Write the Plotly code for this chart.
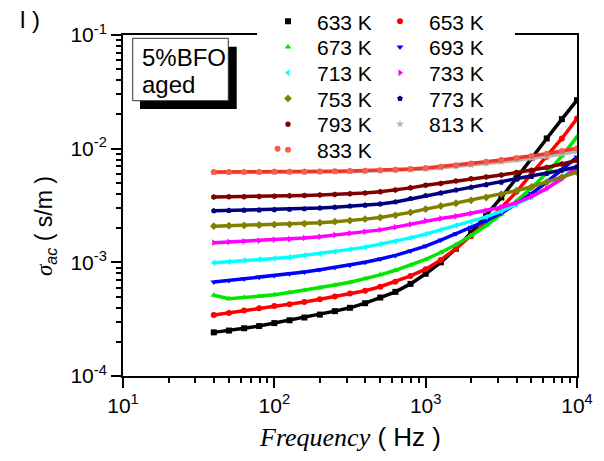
import plotly.graph_objects as go

# Frequencies (Hz) shared by every temperature series
FREQ_HZ = [39.8, 50.1, 63.1, 79.4, 100, 126, 158, 200, 251, 316, 398, 501, 631,
           794, 1000, 1259, 1585, 1995, 2512, 3162, 3981, 5012, 6310, 7943, 10000]

# AC conductivity (s/m) for each temperature
SIGMA_633K = [2.42e-4, 2.51e-4, 2.63e-4, 2.75e-4, 2.92e-4, 3.09e-4, 3.27e-4, 3.47e-4, 3.72e-4,
              3.98e-4, 4.37e-4, 4.90e-4, 5.50e-4, 6.46e-4, 7.94e-4, 1.00e-3, 1.32e-3, 1.82e-3,
              2.57e-3, 3.72e-3, 5.50e-3, 8.32e-3, 1.23e-2, 1.82e-2, 2.67e-2]
SIGMA_653K = [3.44e-4, 3.59e-4, 3.76e-4, 3.94e-4, 4.12e-4, 4.27e-4, 4.47e-4, 4.73e-4, 5.01e-4,
              5.31e-4, 5.62e-4, 6.10e-4, 6.76e-4, 7.59e-4, 8.71e-4, 1.05e-3, 1.32e-3, 1.70e-3,
              2.24e-3, 3.02e-3, 4.17e-3, 6.03e-3, 8.51e-3, 1.23e-2, 1.84e-2]
SIGMA_673K = [5.13e-4, 4.79e-4, 4.90e-4, 5.01e-4, 5.19e-4, 5.43e-4, 5.69e-4, 5.96e-4, 6.31e-4,
              6.68e-4, 7.16e-4, 7.76e-4, 8.51e-4, 9.44e-4, 1.06e-3, 1.22e-3, 1.43e-3, 1.72e-3,
              2.11e-3, 2.66e-3, 3.43e-3, 4.52e-3, 6.10e-3, 8.61e-3, 1.27e-2]
SIGMA_693K = [6.70e-4, 6.92e-4, 7.16e-4, 7.41e-4, 7.67e-4, 7.94e-4, 8.22e-4, 8.61e-4, 9.02e-4,
              9.44e-4, 1.00e-3, 1.07e-3, 1.15e-3, 1.26e-3, 1.39e-3, 1.57e-3, 1.78e-3, 2.04e-3,
              2.32e-3, 2.72e-3, 3.27e-3, 4.03e-3, 5.07e-3, 6.53e-3, 8.45e-3]
SIGMA_713K = [9.93e-4, 1.01e-3, 1.04e-3, 1.06e-3, 1.08e-3, 1.11e-3, 1.15e-3, 1.19e-3, 1.24e-3,
              1.30e-3, 1.36e-3, 1.44e-3, 1.53e-3, 1.64e-3, 1.77e-3, 1.93e-3, 2.11e-3, 2.26e-3,
              2.51e-3, 2.82e-3, 3.24e-3, 3.76e-3, 4.47e-3, 5.50e-3, 7.08e-3]
SIGMA_733K = [1.49e-3, 1.51e-3, 1.53e-3, 1.55e-3, 1.58e-3, 1.60e-3, 1.64e-3, 1.68e-3, 1.74e-3,
              1.80e-3, 1.86e-3, 1.93e-3, 2.04e-3, 2.16e-3, 2.32e-3, 2.43e-3, 2.54e-3, 2.69e-3,
              2.85e-3, 3.05e-3, 3.35e-3, 3.80e-3, 4.47e-3, 5.43e-3, 6.84e-3]
SIGMA_753K = [2.08e-3, 2.10e-3, 2.11e-3, 2.13e-3, 2.15e-3, 2.16e-3, 2.19e-3, 2.23e-3, 2.28e-3,
              2.33e-3, 2.40e-3, 2.48e-3, 2.59e-3, 2.75e-3, 2.94e-3, 3.13e-3, 3.31e-3, 3.51e-3,
              3.72e-3, 3.98e-3, 4.27e-3, 4.62e-3, 5.07e-3, 5.62e-3, 6.22e-3]
SIGMA_773K = [2.84e-3, 2.86e-3, 2.87e-3, 2.88e-3, 2.90e-3, 2.92e-3, 2.95e-3, 3.00e-3, 3.05e-3,
              3.12e-3, 3.18e-3, 3.26e-3, 3.40e-3, 3.63e-3, 3.86e-3, 4.07e-3, 4.32e-3, 4.57e-3,
              4.81e-3, 5.07e-3, 5.37e-3, 5.69e-3, 6.03e-3, 6.46e-3, 6.89e-3]
SIGMA_793K = [3.76e-3, 3.77e-3, 3.78e-3, 3.80e-3, 3.82e-3, 3.85e-3, 3.87e-3, 3.91e-3, 3.95e-3,
              4.01e-3, 4.07e-3, 4.17e-3, 4.32e-3, 4.52e-3, 4.76e-3, 4.95e-3, 5.19e-3, 5.43e-3,
              5.62e-3, 5.86e-3, 6.17e-3, 6.46e-3, 6.84e-3, 7.33e-3, 7.89e-3]
SIGMA_813K = [6.18e-3, 6.18e-3, 6.19e-3, 6.20e-3, 6.21e-3, 6.22e-3, 6.23e-3, 6.25e-3, 6.26e-3,
              6.28e-3, 6.32e-3, 6.37e-3, 6.43e-3, 6.52e-3, 6.62e-3, 6.78e-3, 6.96e-3, 7.17e-3,
              7.40e-3, 7.64e-3, 7.92e-3, 8.20e-3, 8.55e-3, 8.98e-3, 9.45e-3]
SIGMA_833K = [6.22e-3, 6.22e-3, 6.24e-3, 6.24e-3, 6.25e-3, 6.27e-3, 6.28e-3, 6.31e-3, 6.32e-3,
              6.35e-3, 6.40e-3, 6.46e-3, 6.53e-3, 6.64e-3, 6.76e-3, 6.95e-3, 7.16e-3, 7.41e-3,
              7.67e-3, 7.94e-3, 8.28e-3, 8.61e-3, 9.02e-3, 9.55e-3, 1.01e-2]

# Stray 833 K reading near 100 Hz
STRAY_FREQ_833K = [105]
STRAY_SIGMA_833K = [1.0e-2]

LABELS = ["633 K", "653 K", "673 K", "693 K", "713 K", "733 K",
          "753 K", "773 K", "793 K", "813 K", "833 K"]
SERIES = [SIGMA_633K, SIGMA_653K, SIGMA_673K, SIGMA_693K, SIGMA_713K, SIGMA_733K,
          SIGMA_753K, SIGMA_773K, SIGMA_793K, SIGMA_813K, SIGMA_833K]

# Axis ticks
X_TICKS = [10, 100, 1000, 10000]
X_TICK_TEXT = ["10<sup>1</sup>", "10<sup>2</sup>", "10<sup>3</sup>", "10<sup>4</sup>"]
Y_TICKS = [1e-4, 1e-3, 1e-2, 1e-1]
Y_TICK_TEXT = ["10<sup>-4</sup>", "10<sup>-3</sup>", "10<sup>-2</sup>", "10<sup>-1</sup>"]
X_MINOR = [m * d for d in (10, 100, 1000) for m in range(2, 10)]
Y_MINOR = [m * d for d in (1e-4, 1e-3, 1e-2) for m in range(2, 10)]

LINE_COLORS = ["#000000", "#ff0000", "#00e600", "#0000ff", "#00ffff", "#ff00ff",
               "#808000", "#000080", "#800000", "#b4b4b4", "#f2352b"]
MARKER_COLORS = ["#000000", "#ff0000", "#00e600", "#0000ff", "#00ffff", "#ff00ff",
                 "#808000", "#000080", "#800000", "#b4b4b4", "#f4604e"]
SYMBOLS = ["square", "circle", "triangle-up", "triangle-down", "triangle-left",
           "triangle-right", "diamond", "pentagon", "hexagon", "star", "circle"]

SANS = "Liberation Sans, Arial, sans-serif"
SERIF = "Liberation Serif, Times New Roman, serif"

# plot-area edges in pixels, used to place the inset box and legend entries
PLOT_L, PLOT_R, PLOT_T, PLOT_B = 123, 577, 35, 376
W, H = 604, 461

# legend layout: two columns, entries filled left/right, row by row
LEGEND_COL_X = [259, 371]
LEGEND_ROW0_Y = 21.7
LEGEND_ROW_STEP = 25.7


def px_x(px):
    return (px - PLOT_L) / (PLOT_R - PLOT_L)


def px_y(py):
    return (PLOT_B - py) / (PLOT_B - PLOT_T)


fig = go.Figure()
legends = {}

for i, (label, sigma) in enumerate(zip(LABELS, SERIES)):
    legend_name = "legend" if i == 0 else f"legend{i + 1}"
    row, col = divmod(i, 2)
    legends[legend_name] = dict(
        x=px_x(LEGEND_COL_X[col]), y=px_y(LEGEND_ROW0_Y + row * LEGEND_ROW_STEP),
        xanchor="left", yanchor="middle", bgcolor="rgba(0,0,0,0)", borderwidth=0,
        font=dict(family=SANS, size=21, color="black"), itemwidth=48,
    )
    fig.add_trace(go.Scatter(
        x=FREQ_HZ, y=sigma, mode="lines",
        line=dict(color=LINE_COLORS[i], width=3.5),
        showlegend=False, hoverinfo="skip",
    ))
    fig.add_trace(go.Scatter(
        x=FREQ_HZ, y=sigma, mode="markers", name=label,
        marker=dict(symbol=SYMBOLS[i], color=MARKER_COLORS[i], size=6, line=dict(width=0)),
        legend=legend_name,
    ))
    if label == "833 K":
        fig.add_trace(go.Scatter(
            x=STRAY_FREQ_833K, y=STRAY_SIGMA_833K, mode="markers",
            marker=dict(symbol="circle", color=MARKER_COLORS[i], size=6),
            showlegend=False,
        ))

axis_common = dict(
    type="log", tickmode="array",
    showline=True, linecolor="black", linewidth=2, mirror=True,
    ticks="outside", ticklen=10, tickwidth=2, tickcolor="black",
    showgrid=False, zeroline=False,
    tickfont=dict(family=SANS, size=21, color="black"),
)
minor_common = dict(ticks="outside", ticklen=5, tickwidth=1.5, tickcolor="black",
                    showgrid=False, tickmode="array")

fig.update_xaxes(range=[1, 4], tickvals=X_TICKS, ticktext=X_TICK_TEXT,
                 minor=dict(tickvals=X_MINOR, **minor_common), **axis_common)
fig.update_yaxes(range=[-4, -1], tickvals=Y_TICKS, ticktext=Y_TICK_TEXT,
                 minor=dict(tickvals=Y_MINOR, **minor_common), **axis_common)

shapes = [
    # white strip carrying the legend over the top frame line
    dict(type="rect", xref="paper", yref="paper", layer="above",
         x0=px_x(257), x1=px_x(515), y0=px_y(40), y1=px_y(30),
         fillcolor="white", line=dict(width=0)),
    # inset label box with drop shadow
    dict(type="rect", xref="paper", yref="paper", layer="above",
         x0=px_x(140), x1=px_x(236.7), y0=px_y(109), y1=px_y(46.7),
         fillcolor="black", line=dict(width=0)),
    dict(type="rect", xref="paper", yref="paper", layer="above",
         x0=px_x(132.7), x1=px_x(228.3), y0=px_y(100.7), y1=px_y(38.3),
         fillcolor="white", line=dict(color="#333333", width=1)),
]

annotations = [
    dict(text="5%BFO", xref="paper", yref="paper", x=px_x(140), y=px_y(57),
         xanchor="left", yanchor="middle", showarrow=False,
         font=dict(family=SANS, size=24, color="black")),
    dict(text="aged", xref="paper", yref="paper", x=px_x(140), y=px_y(84),
         xanchor="left", yanchor="middle", showarrow=False,
         font=dict(family=SANS, size=24, color="black")),
    dict(text="l )", xref="paper", yref="paper", x=px_x(18), y=px_y(19),
         xanchor="left", yanchor="middle", showarrow=False,
         font=dict(family=SANS, size=24, color="black")),
    dict(text=f'<i><span style="font-family:{SERIF}">Frequency</span></i> ( Hz )',
         xref="paper", yref="paper", x=0.5, y=px_y(437),
         xanchor="center", yanchor="middle", showarrow=False,
         font=dict(family=SANS, size=26, color="black")),
    dict(text=f'<i><span style="font-family:{SERIF}">σ</span><sub>ac</sub></i> ( s/m )',
         xref="paper", yref="paper", x=px_x(46), y=px_y(226), textangle=-90,
         xanchor="center", yanchor="middle", showarrow=False,
         font=dict(family=SANS, size=23, color="black")),
]

fig.update_layout(
    width=W, height=H, autosize=False,
    margin=dict(l=PLOT_L, r=W - PLOT_R, t=PLOT_T, b=H - PLOT_B, pad=0, autoexpand=False),
    paper_bgcolor="white", plot_bgcolor="white",
    shapes=shapes, annotations=annotations,
    **legends,
)

fig.write_html("out.html")
